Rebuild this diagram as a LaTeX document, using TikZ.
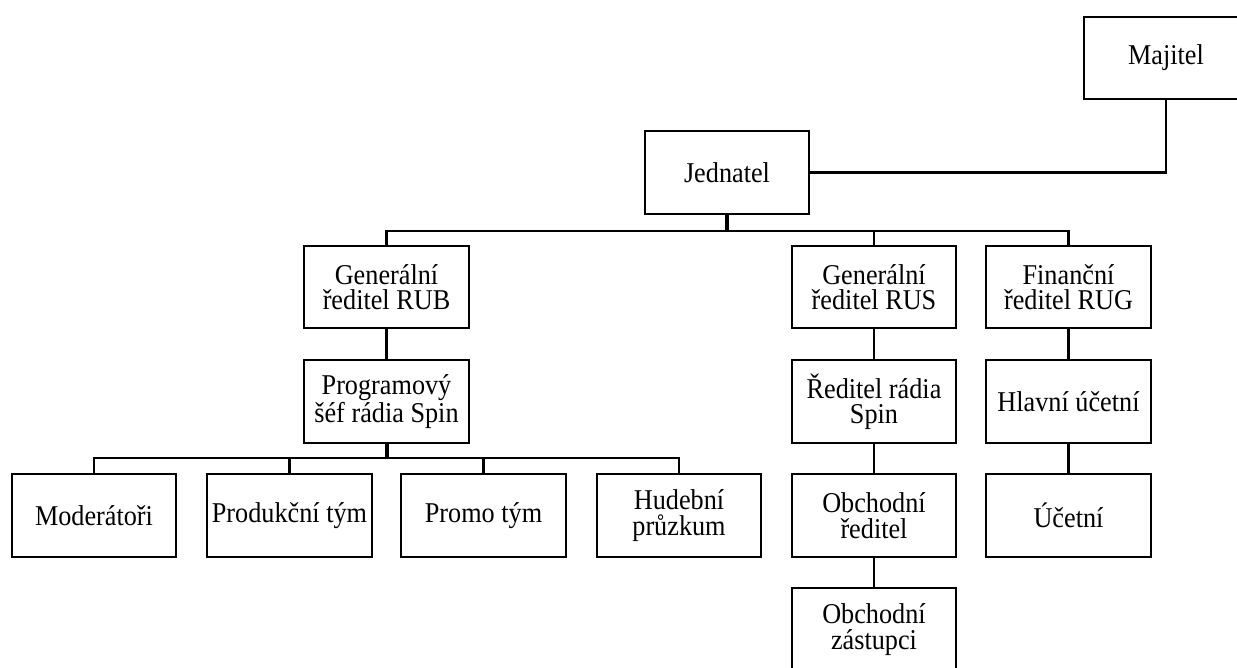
\documentclass[tikz,border=0pt]{standalone}
\usepackage{fontspec}
\setmainfont{Liberation Serif}
\newfontfamily\orgfont{Liberation Serif}[FakeStretch=0.915]

\begin{document}
\begin{tikzpicture}[
  x=0.75pt, y=-0.75pt,
  org/.style={draw, line width=1.3pt, minimum width=123.5pt, minimum height=62pt,
    align=center, inner sep=1pt, font=\orgfont\fontsize{21.5}{19}\selectfont},
  link/.style={line width=2.2pt},
  stem/.style={line width=3pt}
  ]
  \useasboundingbox (0,0) rectangle (1237,667);

  \node[org] (NMaj)   at (1166,58)    {Majitel};
  \node[org] (NJed)   at (727,172.5)  {Jednatel};

  \node[org] (NRub)   at (386.5,287)  {Generální\\ředitel RUB};
  \node[org] (NRus)   at (874,287)    {Generální\\ředitel RUS};
  \node[org] (NRug)   at (1068.5,287) {Finanční\\ředitel RUG};

  \node[org] (NProg)  at (386.5,401.5) {Programový\\šéf rádia Spin};
  \node[org] (NRed)   at (874,401.5)   {Ředitel rádia\\Spin};
  \node[org] (NHlav)  at (1068.5,401.5) {Hlavní účetní};

  \node[org] (NMod)   at (94,515.5)    {Moderátoři};
  \node[org] (NProd)  at (289.5,515.5) {Produkční tým};
  \node[org] (NPromo) at (483.5,515.5) {Promo tým};
  \node[org] (NHud)   at (679,515.5)   {Hudební\\průzkum};
  \node[org] (NObch)  at (874,515.5)   {Obchodní\\ředitel};
  \node[org] (NUcet)  at (1068.5,515.5) {Účetní};

  \node[org] (NZast)  at (874,629.5)   {Obchodní\\zástupci};

  \coordinate (TopBus) at (727,231);
  \coordinate (LowBus) at (386.5,458);

  \draw[link] (NMaj.south) |- (NJed.east);
  \draw[stem] (NJed.south) -- (TopBus);
  \draw[link] (TopBus) -| (NRub.north);
  \draw[link] (TopBus) -| (NRus.north);
  \draw[link] (TopBus) -| (NRug.north);

  \draw[link] (NRub) -- (NProg);
  \draw[stem] (NProg.south) -- (LowBus);
  \foreach \n in {NMod,NProd,NPromo,NHud}
    \draw[link] (LowBus) -| (\n.north);

  \draw[link] (NRus) -- (NRed);
  \draw[link] (NRed) -- (NObch);
  \draw[link] (NObch) -- (NZast);
  \draw[link] (NRug) -- (NHlav);
  \draw[link] (NHlav) -- (NUcet);
\end{tikzpicture}
\end{document}
